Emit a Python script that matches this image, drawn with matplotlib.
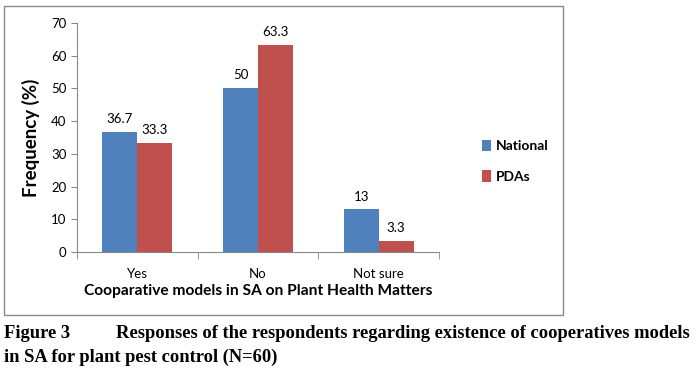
import numpy as np
import matplotlib
matplotlib.use('Agg')
import matplotlib.pyplot as plt
from matplotlib.patches import Rectangle

# data
categories = ['Yes', 'No', 'Not sure']
national = [36.7, 50, 13]
pdas = [33.3, 63.3, 3.3]
national_labels = ['36.7', '50', '13']
pdas_labels = ['33.3', '63.3', '3.3']

plt.rcParams['font.family'] = ['Lato', 'DejaVu Sans']

fig = plt.figure(figsize=(6.96, 3.70), dpi=100)
ax = fig.add_axes([77 / 696, 1 - 252 / 370, 362 / 696, 229 / 370])

# frame around the chart area
fig.patches.append(Rectangle((4 / 696, 1 - 315 / 370), 559 / 696, 309 / 370,
                             transform=fig.transFigure,
                             fill=False, edgecolor='#888888', linewidth=1.0))

x = np.arange(len(categories))
w = 0.29
b1 = ax.bar(x - w / 2, national, w, color='#4F81BD', label='National')
b2 = ax.bar(x + w / 2, pdas, w, color='#C0504D', label='PDAs')

for bars, labs in ((b1, national_labels), (b2, pdas_labels)):
    for r, t in zip(bars, labs):
        ax.annotate(t, (r.get_x() + r.get_width() / 2, r.get_height()),
                    xytext=(0, 5), textcoords='offset points',
                    ha='center', va='bottom', fontsize=9.5)

ax.set_xlim(-0.5, 2.5)
ax.set_ylim(0, 70)
ax.set_yticks(range(0, 71, 10))
ax.set_xticks(x)
ax.set_xticklabels(categories, fontsize=9.5)
ax.set_xticks([-0.5, 0.5, 1.5, 2.5], minor=True)
ax.tick_params(axis='x', which='major', length=0, pad=11.5)
ax.tick_params(axis='x', which='minor', length=5, color='#888888', direction='out')
ax.tick_params(axis='y', length=4, color='#888888', direction='out', labelsize=9.5)

for s in ('top', 'right'):
    ax.spines[s].set_visible(False)
for s in ('left', 'bottom'):
    ax.spines[s].set_color('#888888')

ax.set_ylabel('Frequency (%)', fontsize=13.5, fontweight='bold', labelpad=8)
ax.set_xlabel('Cooparative models in SA on Plant Health Matters', fontsize=11.2,
              fontweight='bold', labelpad=3)

ax.legend(loc='center left', bbox_to_anchor=(1.085, 0.397), frameon=False,
          handlelength=0.65, handleheight=0.9, handletextpad=0.35, labelspacing=1.3,
          prop={'weight': 'bold', 'size': 10})

serif = {'family': 'Liberation Serif', 'weight': 'bold', 'size': 13.3}
fig.text(4 / 696, 1 - 334 / 370, 'Figure 3', va='center', ha='left', fontdict=serif)
fig.text(116 / 696, 1 - 334 / 370,
         'Responses of the respondents regarding existence of cooperatives models',
         va='center', ha='left', fontdict=serif)
fig.text(4 / 696, 1 - 357 / 370, 'in SA for plant pest control (N=60)',
         va='center', ha='left', fontdict=serif)

plt.savefig('out.png', dpi=100)
plt.close(fig)
